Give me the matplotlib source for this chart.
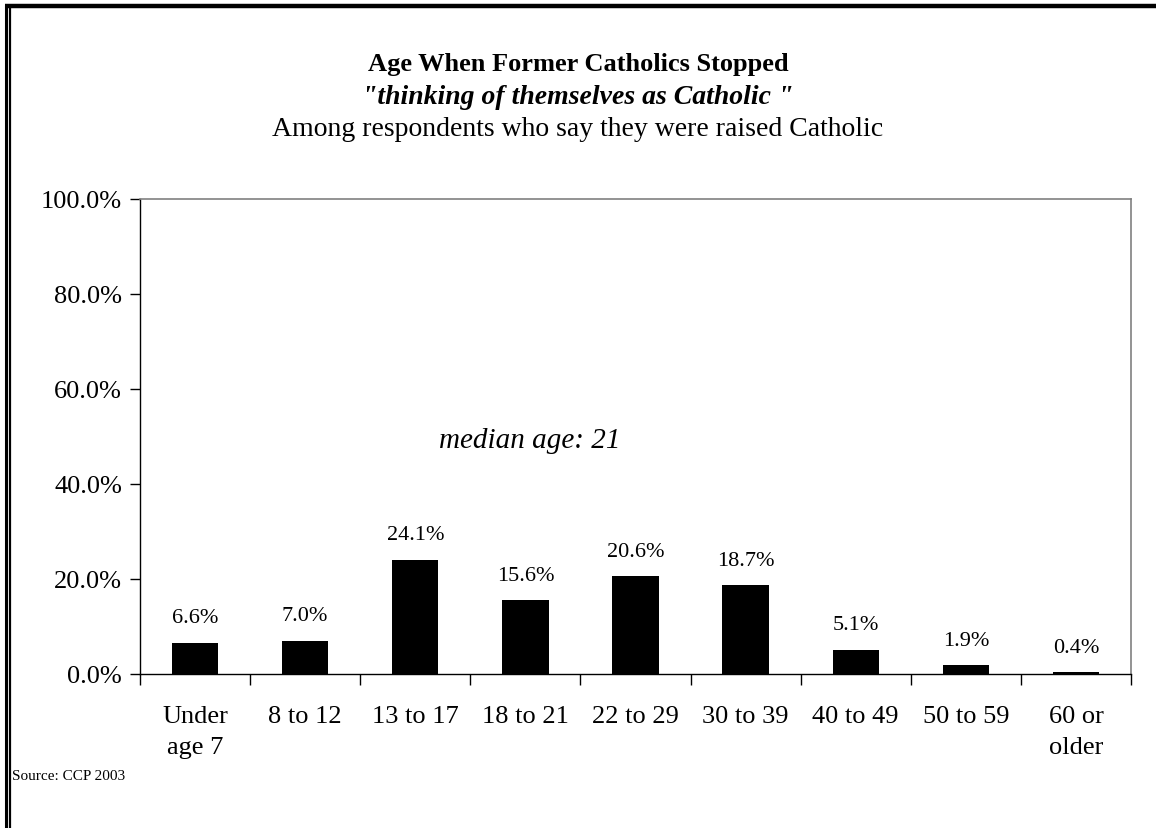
import matplotlib
matplotlib.use("Agg")
import matplotlib.pyplot as plt
from matplotlib.lines import Line2D
from matplotlib.ticker import FuncFormatter, FixedLocator

categories = ["Under\nage 7", "8 to 12", "13 to 17", "18 to 21", "22 to 29",
              "30 to 39", "40 to 49", "50 to 59", "60 or\nolder"]
values = [6.6, 7.0, 24.1, 15.6, 20.6, 18.7, 5.1, 1.9, 0.4]
y_ticks = [0, 20, 40, 60, 80, 100]

plt.rcParams["font.family"] = ["Liberation Serif", "DejaVu Serif"]

W, H = 1156, 829
fig = plt.figure(figsize=(W / 100, H / 100), dpi=100)
fig.patch.set_facecolor("white")

# plot area in pixel terms
left, right, top, bottom = 140, 1131, 200, 675
ax = fig.add_axes([left / W, 1 - bottom / H, (right - left) / W, (bottom - top) / H])

x = list(range(len(categories)))
ax.bar(x, values, width=0.42, color="black", zorder=3)
ax.set_xlim(-0.5, len(categories) - 0.5)
ax.set_ylim(0, 100)

for xi, v in zip(x, values):
    ax.annotate(f"{v:.1f}%", (xi, v), xytext=(0, 11), textcoords="offset points",
                ha="center", va="bottom", fontsize=16)

ax.yaxis.set_major_locator(FixedLocator(y_ticks))
ax.yaxis.set_major_formatter(FuncFormatter(lambda v, p: f"{v:.1f}%"))
ax.tick_params(axis="y", direction="out", length=7, width=1, labelsize=19, pad=6)

# category ticks sit on the boundaries between groups
ax.set_xticks([i - 0.5 for i in range(len(categories) + 1)])
ax.set_xticklabels([])
ax.set_xticks(x, minor=True)
ax.set_xticklabels(categories, minor=True, fontsize=19, linespacing=1.55)
ax.tick_params(axis="x", which="major", direction="out", length=8, width=1)
ax.tick_params(axis="x", which="minor", length=0, pad=22)

for side in ("left", "bottom"):
    ax.spines[side].set_color("black")
    ax.spines[side].set_linewidth(1)
for side in ("top", "right"):
    ax.spines[side].set_color("#808080")
    ax.spines[side].set_linewidth(1.2)

fig.text(530 / W, 1 - 441 / H, "median age: 21", fontsize=21, style="italic",
         ha="center", va="center")

# titles
fig.text(0.5, 1 - 64 / H, "Age When Former Catholics Stopped", ha="center", va="center",
         fontsize=19, fontweight="bold")
fig.text(0.5, 1 - 98 / H, "\"thinking of themselves as Catholic \"", ha="center", va="center",
         fontsize=20, fontweight="bold", style="italic")
fig.text(0.5, 1 - 130 / H, "Among respondents who say they were raised Catholic",
         ha="center", va="center", fontsize=20)
fig.text(12 / W, 1 - 777 / H, "Source: CCP 2003", ha="left", va="center", fontsize=11)

# outer frame: thick top rule and a double rule down the left side
def px_line(x0, y0, x1, y1, lw):
    fig.add_artist(Line2D([x0 / W, x1 / W], [1 - y0 / H, 1 - y1 / H],
                          transform=fig.transFigure, color="black", linewidth=lw,
                          solid_capstyle="butt"))

px_line(5, 7, W, 7, 3.2)
px_line(6, 5, 6, H, 2.2)
px_line(9.5, 9, 9.5, H, 1.6)

fig.savefig("out.png", dpi=100, facecolor="white")
